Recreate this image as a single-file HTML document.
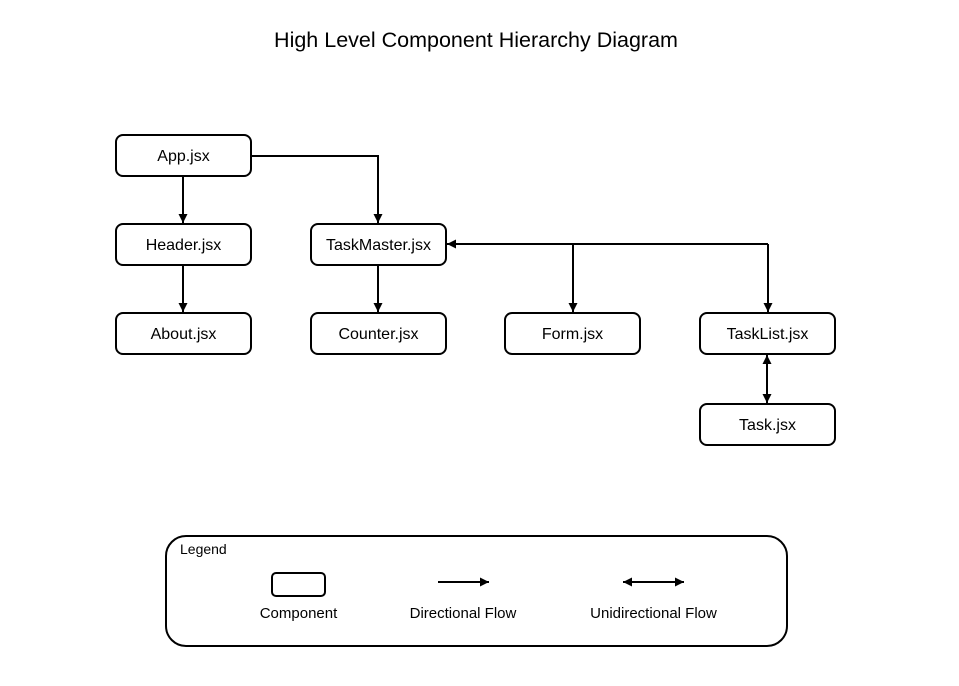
<!DOCTYPE html>
<html><head><meta charset="utf-8"><style>
html,body{margin:0;padding:0;background:#fff;}
svg{display:block;}
text{font-family:"Liberation Sans",sans-serif;fill:#000;}
</style></head><body>
<svg width="959" height="686" viewBox="0 0 959 686" xmlns="http://www.w3.org/2000/svg">
<defs>
<marker id="b" viewBox="0 0 10 10" refX="10" refY="5" markerWidth="9" markerHeight="9" orient="auto-start-reverse" markerUnits="userSpaceOnUse">
<path d="M0,0 L10,5 L0,10 z" fill="#000"/>
</marker>
</defs>
<text x="476" y="47" font-size="21.5" text-anchor="middle">High Level Component Hierarchy Diagram</text>
<g fill="#fff" stroke="#000" stroke-width="2">
<rect x="116" y="135" width="135" height="41" rx="7"/>
<rect x="116" y="224" width="135" height="41" rx="7"/>
<rect x="116" y="313" width="135" height="41" rx="7"/>
<rect x="311" y="224" width="135" height="41" rx="7"/>
<rect x="311" y="313" width="135" height="41" rx="7"/>
<rect x="505" y="313" width="135" height="41" rx="7"/>
<rect x="700" y="313" width="135" height="41" rx="7"/>
<rect x="700" y="404" width="135" height="41" rx="7"/>
</g>
<g font-size="16" text-anchor="middle">
<text x="183.5" y="161">App.jsx</text>
<text x="183.5" y="250">Header.jsx</text>
<text x="183.5" y="339">About.jsx</text>
<text x="378.5" y="250">TaskMaster.jsx</text>
<text x="378.5" y="339">Counter.jsx</text>
<text x="572.5" y="339">Form.jsx</text>
<text x="767.5" y="339">TaskList.jsx</text>
<text x="767.5" y="430">Task.jsx</text>
</g>
<g fill="none" stroke="#000" stroke-width="2">
<path d="M251,156 H378 V223" marker-end="url(#b)"/>
<path d="M183,176 V223" marker-end="url(#b)"/>
<path d="M183,265 V312" marker-end="url(#b)"/>
<path d="M378,265 V312" marker-end="url(#b)"/>
<path d="M768,244 H447" marker-end="url(#b)"/>
<path d="M573,244 V312" marker-end="url(#b)"/>
<path d="M768,244 V312" marker-end="url(#b)"/>
<path d="M767,355 V403" marker-start="url(#b)" marker-end="url(#b)"/>
</g>
<rect x="166" y="536" width="621" height="110" rx="20" fill="none" stroke="#000" stroke-width="2"/>
<text x="180" y="554" font-size="14">Legend</text>
<rect x="272" y="573" width="53" height="23" rx="4" fill="none" stroke="#000" stroke-width="2"/>
<g fill="none" stroke="#000" stroke-width="2">
<path d="M438,582 H489" marker-end="url(#b)"/>
<path d="M623,582 H684" marker-start="url(#b)" marker-end="url(#b)"/>
</g>
<g font-size="15" text-anchor="middle">
<text x="298.5" y="618">Component</text>
<text x="463" y="618">Directional Flow</text>
<text x="653.5" y="618">Unidirectional Flow</text>
</g>
</svg>
</body></html>
